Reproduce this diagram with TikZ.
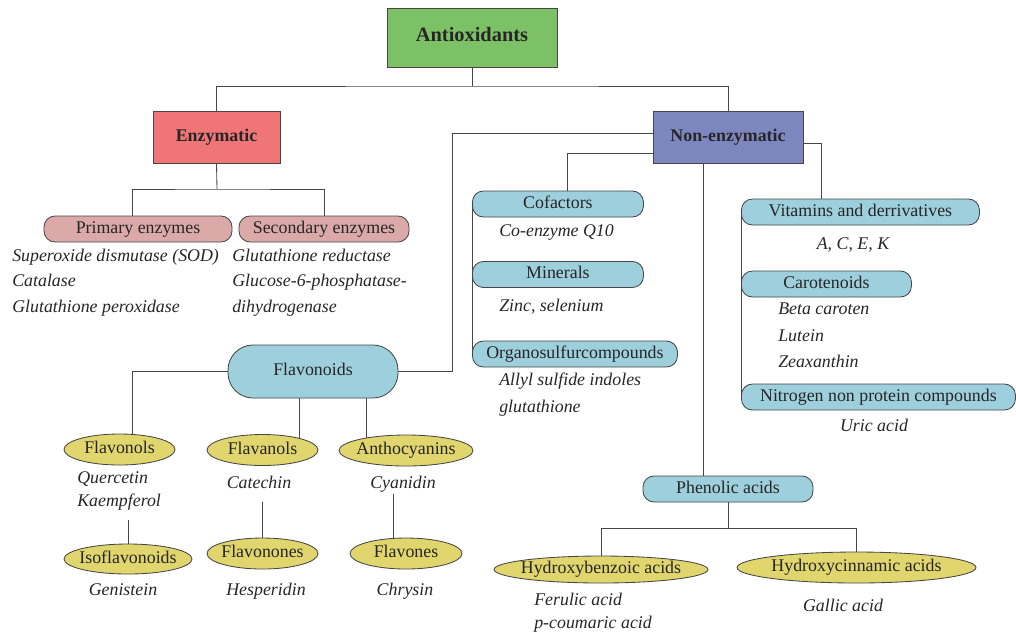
\documentclass[tikz,border=0pt]{standalone}
\usepackage{fontspec}
\setmainfont{Liberation Serif}
\usetikzlibrary{shapes.geometric,calc,backgrounds}
\definecolor{antigreen}{RGB}{124,193,101}
\definecolor{enzred}{RGB}{239,117,119}
\definecolor{nonblue}{RGB}{126,134,192}
\definecolor{pinkfill}{RGB}{219,170,168}
\definecolor{cyanfill}{RGB}{158,207,221}
\definecolor{yelfill}{RGB}{225,213,110}
\definecolor{edgegray}{RGB}{70,70,70}
\newdimen\pxu \pxu=0.025cm
\begin{document}
\begin{tikzpicture}[x=0.025cm, y=-0.025cm,
    every node/.style={font=\fontsize{12.7}{15}\selectfont, text=black!85, text height=8.6pt, text depth=2.6pt},
    head/.style={rectangle, draw=edgegray, line width=0.7pt, font=\fontsize{12.7}{15}\selectfont\bfseries, minimum height=52\pxu},
    pill/.style={rectangle, rounded corners=11\pxu, draw=edgegray, fill=cyanfill, line width=0.6pt, minimum height=26\pxu, inner sep=0pt},
    pinkpill/.style={pill, fill=pinkfill},
    oval/.style={ellipse, draw=edgegray, fill=yelfill, line width=0.6pt, inner sep=0pt, minimum height=31\pxu},
    item/.style={font=\fontsize{12.7}{15}\selectfont\itshape, inner sep=0pt},
    link/.style={draw=edgegray, line width=0.6pt}]
    \useasboundingbox (0,0) rectangle (1016,634);

    % Boxes
    \node[head, fill=antigreen, minimum width=170\pxu, minimum height=59\pxu, font=\fontsize{14.5}{17}\selectfont\bfseries] (anti) at (472,37.5) {Antioxidants};
    \node[head, fill=enzred, minimum width=127\pxu] (enz) at (216.5,137) {Enzymatic};
    \node[head, fill=nonblue, minimum width=150\pxu] (nonenz) at (728,137) {Non-enzymatic};

    % Enzymatic branch
    \node[pinkpill, minimum width=188\pxu] (prim) at (138,229) {Primary enzymes};
    \node[pinkpill, minimum width=170\pxu] (sec) at (324,229) {Secondary enzymes};
    \node[item, anchor=west] (sod) at (12,257) {Superoxide dismutase (SOD)};
    \node[item, anchor=west] (cat) at (12,282) {Catalase};
    \node[item, anchor=west] (gpx) at (12,308) {Glutathione peroxidase};
    \node[item, anchor=west] (gred) at (232,257) {Glutathione reductase};
    \node[item, anchor=west] (gsix) at (232,282) {Glucose-6-phosphatase-};
    \node[item, anchor=west] (dihyd) at (232,308) {dihydrogenase};

    % Non-enzymatic, middle column
    \node[pill, minimum width=171\pxu, anchor=west] (cof) at (472,204) {Cofactors};
    \node[item, anchor=west] (coq) at (499,232) {Co-enzyme Q10};
    \node[pill, minimum width=171\pxu, anchor=west] (mine) at (472,274.5) {Minerals};
    \node[item, anchor=west] (zinc) at (499,307) {Zinc, selenium};
    \node[pill, minimum width=205\pxu, anchor=west] (orgs) at (472,354) {Organosulfurcompounds};
    \node[item, anchor=west] (allyl) at (499,381) {Allyl sulfide indoles};
    \node[item, anchor=west] (gluta) at (499,408) {glutathione};

    % Non-enzymatic, right column
    \node[pill, minimum width=238\pxu, anchor=west] (vit) at (741,212) {Vitamins and derrivatives};
    \node[item] (acek) at (853,245) {A, C, E, K};
    \node[pill, minimum width=170\pxu, anchor=west] (caro) at (741,284) {Carotenoids};
    \node[item, anchor=west] (beta) at (778,310) {Beta caroten};
    \node[item, anchor=west] (lut) at (778,337) {Lutein};
    \node[item, anchor=west] (zea) at (778,363) {Zeaxanthin};
    \node[pill, minimum width=274\pxu, anchor=west] (nitro) at (741,397) {Nitrogen non protein compounds};
    \node[item] (uric) at (874,427) {Uric acid};

    % Phenolic acids
    \node[pill, minimum width=170\pxu] (phen) at (728,489) {Phenolic acids};
    \node[oval, minimum width=214\pxu, minimum height=27\pxu] (hbz) at (601,569.5) {\makebox[0pt]{Hydroxybenzoic acids}};
    \node[oval, minimum width=239\pxu] (hcn) at (856.5,567.5) {\makebox[0pt]{Hydroxycinnamic acids}};
    \node[item, anchor=west] (feru) at (534,601) {Ferulic acid};
    \node[item, anchor=west] (pcou) at (534,624) {p-coumaric acid};
    \node[item] (gall) at (843,607) {Gallic acid};

    % Flavonoids
    \node[pill, rounded corners=25\pxu, minimum width=170\pxu, minimum height=53\pxu] (flavonoids) at (313,371.5) {Flavonoids};
    \node[oval, minimum width=111\pxu] (flavonols) at (119.5,449.5) {\makebox[0pt]{Flavonols}};
    \node[oval, minimum width=111\pxu] (flavanols) at (262.5,450) {\makebox[0pt]{Flavanols}};
    \node[oval, minimum width=134\pxu] (antho) at (406,450.5) {\makebox[0pt]{Anthocyanins}};
    \node[item, anchor=west] (querc) at (77,479) {Quercetin};
    \node[item, anchor=west] (kaemp) at (77,502) {Kaempferol};
    \node[item] (catechin) at (259,484) {Catechin};
    \node[item] (cyanidin) at (403,484) {Cyanidin};
    \node[oval, minimum width=128\pxu, minimum height=30\pxu] (isoflav) at (128,559) {\makebox[0pt]{Isoflavonoids}};
    \node[oval, minimum width=111\pxu] (flavonones) at (262.5,553.5) {\makebox[0pt]{Flavonones}};
    \node[oval, minimum width=112\pxu] (flavones) at (406,553.5) {\makebox[0pt]{Flavones}};
    \node[item] (geni) at (123,591) {Genistein};
    \node[item] (hesp) at (266,591) {Hesperidin};
    \node[item] (chry) at (405,591) {Chrysin};

    % Connectors
    \begin{scope}[on background layer]
        \coordinate (jA) at (472,86);
        \draw[link] (anti.south) -- (jA);
        \draw[link] (enz.north) |- (jA) -| (nonenz.north);
        \coordinate (jE) at (217,189);
        \draw[link] (enz.south) -- (jE);
        \draw[link] ($(prim.north)+(-6,0)$) |- (jE) -| (sec.north);
        % left hooks of non-enzymatic
        \coordinate (jF) at (452,133);
        \draw[link] (nonenz.west |- jF) -- (jF) |- (flavonoids.east);
        \coordinate (jC) at (567,153);
        \draw[link] (nonenz.west |- jC) -- (jC) -- (jC |- cof.north);
        \draw[link] (cof.west) -- (orgs.west);
        \draw[link] ($(nonenz.south)+(-25,0)$) -- ($(phen.north)+(-25,0)$);
        \coordinate (jV) at (821,143);
        \draw[link] (nonenz.east |- jV) -- (jV) -- (jV |- vit.north);
        \draw[link] (vit.west) -- (nitro.west);
        \coordinate (jP) at (728,528);
        \draw[link] (phen.south) -- (jP);
        \draw[link] (hbz.north) |- (jP) -| (hcn.north);
        % flavonoid subclasses
        \draw[link] (flavonoids.west) -| ($(flavonols.center)+(12.5,0)$);
        \draw[link] ($(flavonoids.south)+(-14,0)$) coordinate (fa) -- (fa |- flavanols.center);
        \draw[link] ($(flavonoids.south)+(53,0)$) coordinate (fb) -- (fb |- antho.center);
        \draw[link] ($(kaemp.south -| isoflav.north)+(0,10)$) -- (isoflav.north);
        \draw[link] ($(catechin.south -| flavonones.north)+(0,10)$) -- (flavonones.north);
        \draw[link] ($(cyanidin.south)+(-10,2)$) coordinate (fc) -- (fc |- flavones.center);
    \end{scope}
\end{tikzpicture}
\end{document}
